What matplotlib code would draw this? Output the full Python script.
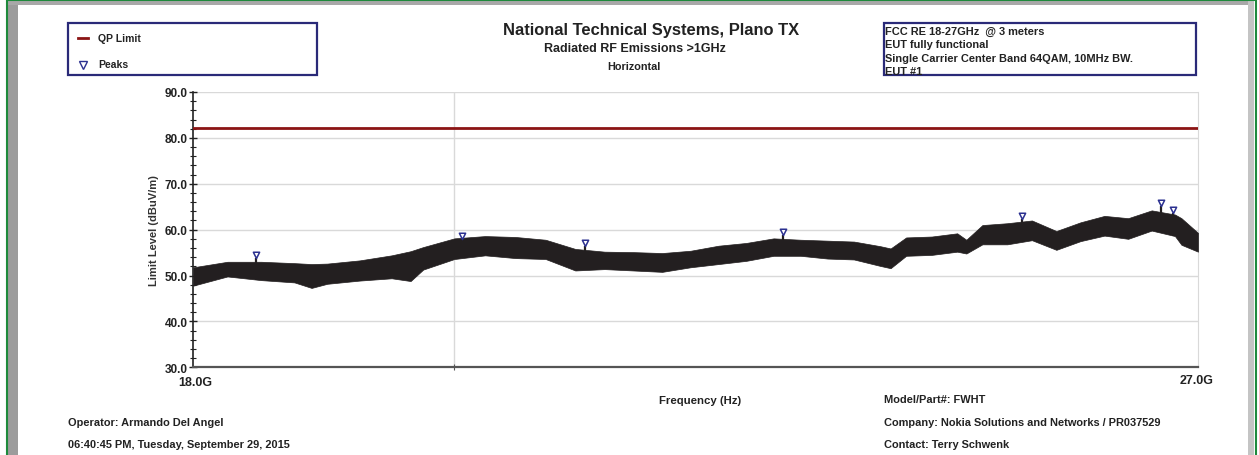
import numpy as np
import matplotlib
matplotlib.use("Agg")
import matplotlib.pyplot as plt
from matplotlib.patches import Rectangle
from matplotlib.lines import Line2D
from matplotlib.path import Path
from matplotlib.ticker import MultipleLocator, FormatStrFormatter, NullLocator, NullFormatter, FixedLocator

plt.rcParams['font.family'] = ['Liberation Sans', 'DejaVu Sans']

# ---- measured spectrum envelope (GHz, dBuV/m) ----
freq_ghz = [18.0, 18.25, 18.5, 18.75, 18.88, 19.0, 19.25, 19.5, 19.65, 19.75,
            20.0, 20.25, 20.5, 20.75, 21.0, 21.25, 21.5, 21.75, 22.0, 22.25,
            22.5, 22.75, 23.0, 23.25, 23.5, 23.75, 23.85, 24.0, 24.25, 24.5,
            24.59, 24.75, 25.0, 25.25, 25.5, 25.75, 26.0, 26.25, 26.5, 26.75,
            26.82, 27.0]
level_upper = [51.8, 53.0, 53.0, 52.7, 52.5, 52.6, 53.3, 54.4, 55.3, 56.2,
               58.1, 58.6, 58.4, 57.8, 55.8, 55.2, 55.1, 54.9, 55.4, 56.5,
               57.1, 58.1, 57.8, 57.6, 57.4, 56.4, 55.9, 58.3, 58.5, 59.2,
               57.8, 61.0, 61.4, 62.0, 59.7, 61.6, 63.0, 62.5, 64.2, 63.3,
               62.5, 59.3]
level_lower = [47.8, 49.8, 49.0, 48.5, 47.3, 48.2, 48.9, 49.4, 48.8, 51.3,
               53.6, 54.4, 53.8, 53.6, 51.1, 51.4, 51.1, 50.8, 51.8, 52.5,
               53.2, 54.3, 54.3, 53.7, 53.5, 52.1, 51.6, 54.3, 54.5, 55.2,
               54.8, 56.8, 56.8, 57.7, 55.6, 57.5, 58.7, 58.0, 59.8, 58.6,
               56.7, 55.2]

# ---- detected peaks ----
peak_freq_ghz = [18.46, 20.06, 21.08, 22.84, 25.15, 26.60, 26.73]
peak_level = [53.8, 58.0, 56.4, 58.8, 62.3, 65.2, 63.7]

# ---- limit ----
qp_limit = 82.2
freq_range_ghz = [18.0, 27.0]

W, H = 1259, 456
fig = plt.figure(figsize=(W / 100, H / 100), dpi=100)


def fx(x):
    return x / W


def fy(y):
    return 1 - y / H


def fig_line(xs, ys, **kw):
    fig.lines.append(Line2D([fx(v) for v in xs], [fy(v) for v in ys],
                            transform=fig.transFigure, **kw))


def fig_rect(x0, y0, x1, y1, **kw):
    fig.patches.append(Rectangle((fx(x0), fy(y1)), fx(x1) - fx(x0), fy(y0) - fy(y1),
                                 transform=fig.transFigure, **kw))


# page frame with bevel
fig_rect(7, 2, 18, 456, fc='#9c9c9c', ec='none')
fig_rect(7, 2, 1248, 5.5, fc='#a8a8a8', ec='none')
fig_rect(1248, 2, 1254, 456, fc='#c4c4c4', ec='none')
fig_line([6.5, 6.5, 1255.5, 1255.5], [456, 0.8, 0.8, 456], color='#1e8a3c', lw=1.5)

ax_left, ax_right, ax_top, ax_bot = 193.3, 1198, 93, 368.3
ax = fig.add_axes([fx(ax_left), fy(ax_bot), fx(ax_right - ax_left), fy(ax_top) - fy(ax_bot)])

f_hz = np.array(freq_ghz) * 1e9
ax.fill_between(f_hz, level_lower, level_upper, color='#231f20', lw=0.5, ec='#231f20', zorder=3)
pk_hz = np.array(peak_freq_ghz) * 1e9
pk_base = np.interp(pk_hz, f_hz, level_lower)
ax.vlines(pk_hz, pk_base, peak_level, color='#231f20', lw=1.6, zorder=3)
ax.axhline(qp_limit, color='#8b1414', lw=2, zorder=4)

# triangle marker whose tip sits on the peak value
tri = Path([(-0.5, 1.0), (0.5, 1.0), (0.0, 0.0), (-0.5, 1.0)],
           [Path.MOVETO, Path.LINETO, Path.LINETO, Path.CLOSEPOLY])
ax.plot(pk_hz, peak_level, ls='none', marker=tri, ms=9, mfc='white', mec='#2b3090',
        mew=1.1, zorder=5)

ax.set_xscale('log')
ax.set_xlim(freq_range_ghz[0] * 1e9, freq_range_ghz[1] * 1e9)
ax.set_ylim(30, 90)
ax.xaxis.set_major_locator(FixedLocator([20e9]))
ax.xaxis.set_major_formatter(NullFormatter())
ax.xaxis.set_minor_locator(NullLocator())
ax.xaxis.set_minor_formatter(NullFormatter())
ax.tick_params(axis='x', which='major', direction='inout', length=5, width=0.8,
               color='#555555')
ax.yaxis.set_major_locator(MultipleLocator(10))
ax.yaxis.set_minor_locator(MultipleLocator(2))
ax.yaxis.set_major_formatter(FormatStrFormatter('%.1f'))
ax.tick_params(axis='y', which='major', direction='inout', length=6, width=1.0,
               color='#222222', pad=1, labelsize=8.5)
ax.tick_params(axis='y', which='minor', direction='inout', length=4, width=0.8,
               color='#222222')
for lab in ax.get_yticklabels():
    lab.set_fontweight('bold')
    lab.set_color('#222222')

ax.grid(True, which='major', axis='both', color='#d9d9d9', lw=1.0, zorder=0)
ax.set_axisbelow(True)
ax.spines['top'].set_visible(False)
ax.spines['right'].set_color('#d9d9d9')
ax.spines['left'].set_color('#222222')
ax.spines['left'].set_linewidth(1.2)
ax.spines['bottom'].set_color('#555555')
ax.spines['bottom'].set_linewidth(1.6)

ax.set_ylabel('Limit Level (dBuV/m)', fontsize=8, fontweight='bold', color='#333333',
              labelpad=4)

txt = dict(color='#222222', fontweight='bold')
fs = 7.9
fig.text(fx(195), fy(383), '18.0G', ha='center', va='center', fontsize=9, **txt)
fig.text(fx(1197), fy(381), '27.0G', ha='center', va='center', fontsize=9, **txt)
fig.text(fx(700), fy(401), 'Frequency (Hz)', ha='center', va='center', fontsize=8.2, **txt)

# titles
fig.text(fx(651), fy(31), 'National Technical Systems, Plano TX', ha='center', va='center',
         fontsize=11.9, **txt)
fig.text(fx(635), fy(49.5), 'Radiated RF Emissions >1GHz', ha='center', va='center',
         fontsize=9, **txt)
fig.text(fx(634), fy(67.5), 'Horizontal', ha='center', va='center', fontsize=7.8, **txt)

# legend box
fig_rect(68, 24, 317, 76, fill=False, ec='#2a2a78', lw=1.6)
fig_line([78, 88], [38.5, 38.5], color='#8b1414', lw=2)
fig_line([83], [65.5], ls='none', marker='v', ms=6, mfc='white', mec='#2b3090', mew=1.0)
fig.text(fx(98), fy(38.5), 'QP Limit', ha='left', va='center', fontsize=7.5, **txt)
fig.text(fx(98), fy(65.5), 'Peaks', ha='left', va='center', fontsize=7.5, **txt)

# test description box
fig_rect(884, 24, 1196, 76, fill=False, ec='#2a2a78', lw=1.6)
info_lines = ['FCC RE 18-27GHz  @ 3 meters', 'EUT fully functional',
              'Single Carrier Center Band 64QAM, 10MHz BW.', 'EUT #1']
for i, s in enumerate(info_lines):
    fig.text(fx(885), fy(32 + i * 13.3), s, ha='left', va='center', fontsize=fs, **txt)

# footer
fig.text(fx(68), fy(423), 'Operator: Armando Del Angel', ha='left', va='center',
         fontsize=fs, **txt)
fig.text(fx(68), fy(445), '06:40:45 PM, Tuesday, September 29, 2015', ha='left',
         va='center', fontsize=fs, **txt)
fig.text(fx(884), fy(400), 'Model/Part#: FWHT', ha='left', va='center', fontsize=fs, **txt)
fig.text(fx(884), fy(423), 'Company: Nokia Solutions and Networks / PR037529', ha='left',
         va='center', fontsize=fs, **txt)
fig.text(fx(884), fy(445), 'Contact: Terry Schwenk', ha='left', va='center',
         fontsize=fs, **txt)

fig.savefig('out.png', dpi=100)
